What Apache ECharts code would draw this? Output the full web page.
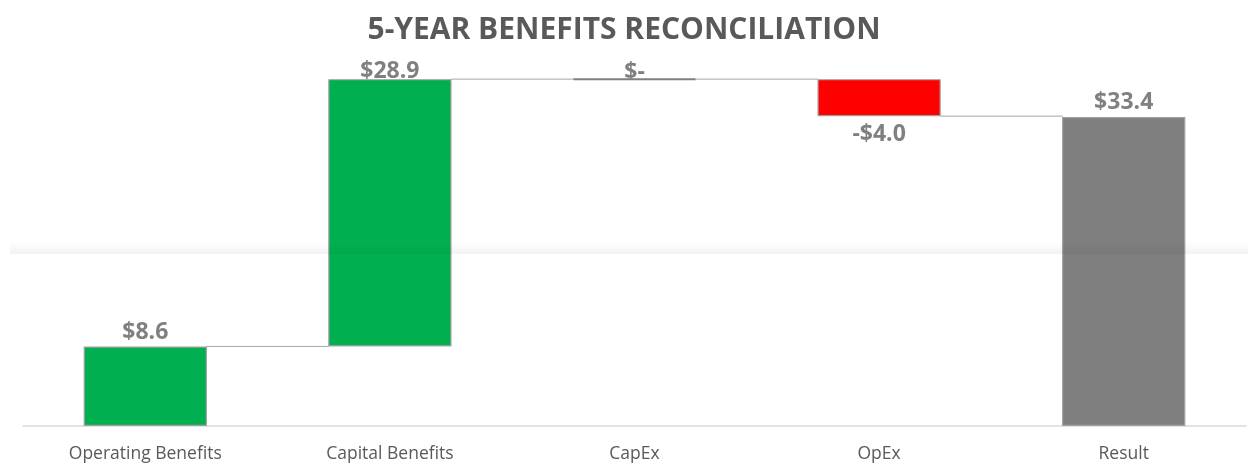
<!DOCTYPE html>
<html>
<head>
<meta charset="utf-8">
<script src="https://cdn.jsdelivr.net/npm/echarts@6/dist/echarts.min.js"></script>
<style>
html,body{margin:0;padding:0;background:#fff;}
#chart{width:1248px;height:472px;}
</style>
</head>
<body>
<div id="chart"></div>
<script>
const categories = ['Operating Benefits', 'Capital Benefits', 'CapEx', 'OpEx', 'Result'];
const changes = [8.6, 28.9, 0, -4.0, 33.4];
const isTotal = [false, false, false, false, true];
const valueLabels = ['$8.6', '$28.9', '$-', '-$4.0', '$33.4'];
const barColors = ['#00B050', '#00B050', '#00B050', '#FF0000', '#7F7F7F'];

// waterfall geometry computed from the values
const bases = [], heights = [], levels = [];
let running = 0;
changes.forEach((v, i) => {
  if (isTotal[i]) { bases.push(0); heights.push(v); running = v; }
  else if (v >= 0) { bases.push(running); heights.push(v); running += v; }
  else { running += v; bases.push(running); heights.push(-v); }
  levels.push(running);
});
const labelPos = changes.map((v, i) => (v < 0 && !isTotal[i]) ? 'bottom' : 'top');
const labelDist = [2.5, -3.5, -4.5, 6.5, 3.5];

const connectors = [];
for (let i = 0; i < categories.length - 1; i++) connectors.push([i, levels[i], i + 1]);

const chart = echarts.init(document.getElementById('chart'));
chart.setOption({
  animation: false,
  backgroundColor: '#fff',
  title: {
    text: '5-YEAR BENEFITS RECONCILIATION',
    left: 'center', top: 10,
    textStyle: { fontFamily: 'Open Sans', fontWeight: 'bold', fontSize: 30, color: '#595959' }
  },
  grid: { left: 23, right: 2, top: 56, bottom: 46 },
  xAxis: {
    type: 'category', data: categories,
    axisLine: { lineStyle: { color: '#d9d9d9', width: 1.5 } },
    axisTick: { show: false },
    axisLabel: { color: '#595959', fontFamily: 'Open Sans', fontSize: 17.5, margin: 19 }
  },
  yAxis: { type: 'value', min: 0, max: 40, show: false, splitLine: { show: false } },
  series: [
    {
      type: 'bar', stack: 'w', barWidth: '50.4%',
      itemStyle: { color: 'transparent' }, silent: true,
      data: bases
    },
    {
      type: 'bar', stack: 'w', barWidth: '50.4%',
      data: heights.map((h, i) => ({
        value: h,
        itemStyle: { color: barColors[i], borderColor: '#A0A0A0', borderWidth: h === 0 ? 0 : 1.2 },
        label: {
          show: true, position: labelPos[i], distance: labelDist[i],
          formatter: valueLabels[i],
          fontFamily: 'Open Sans', fontWeight: 'bold', fontSize: 23, lineHeight: 23, color: '#808080'
        }
      }))
    },
    {
      type: 'custom', z: 5,
      data: connectors,
      renderItem: function (params, api) {
        const bw = api.size([1, 0])[0];
        const p1 = api.coord([api.value(0), api.value(1)]);
        const p2 = api.coord([api.value(2), api.value(1)]);
        return {
          type: 'line',
          shape: { x1: p1[0] + bw * 0.25, y1: p1[1], x2: p2[0] - bw * 0.25, y2: p2[1] },
          style: { stroke: '#A6A6A6', lineWidth: 1 }
        };
      }
    },
    {
      type: 'custom', z: 6,
      data: changes.map((v, i) => [i, levels[i], v]).filter(d => d[2] === 0),
      renderItem: function (params, api) {
        const bw = api.size([1, 0])[0];
        const p = api.coord([api.value(0), api.value(1)]);
        return {
          type: 'line',
          shape: { x1: p[0] - bw * 0.25, y1: p[1], x2: p[0] + bw * 0.25, y2: p[1] },
          style: { stroke: '#7F7F7F', lineWidth: 2 }
        };
      }
    }
  ],
  graphic: [{
    type: 'rect', z: 100, silent: true,
    shape: { x: 10, y: 242, width: 1238, height: 12 },
    style: {
      fill: new echarts.graphic.LinearGradient(0, 0, 0, 1, [
        { offset: 0, color: 'rgba(0,0,0,0)' },
        { offset: 1, color: 'rgba(0,0,0,0.05)' }
      ])
    }
  }]
});
</script>
</body>
</html>
